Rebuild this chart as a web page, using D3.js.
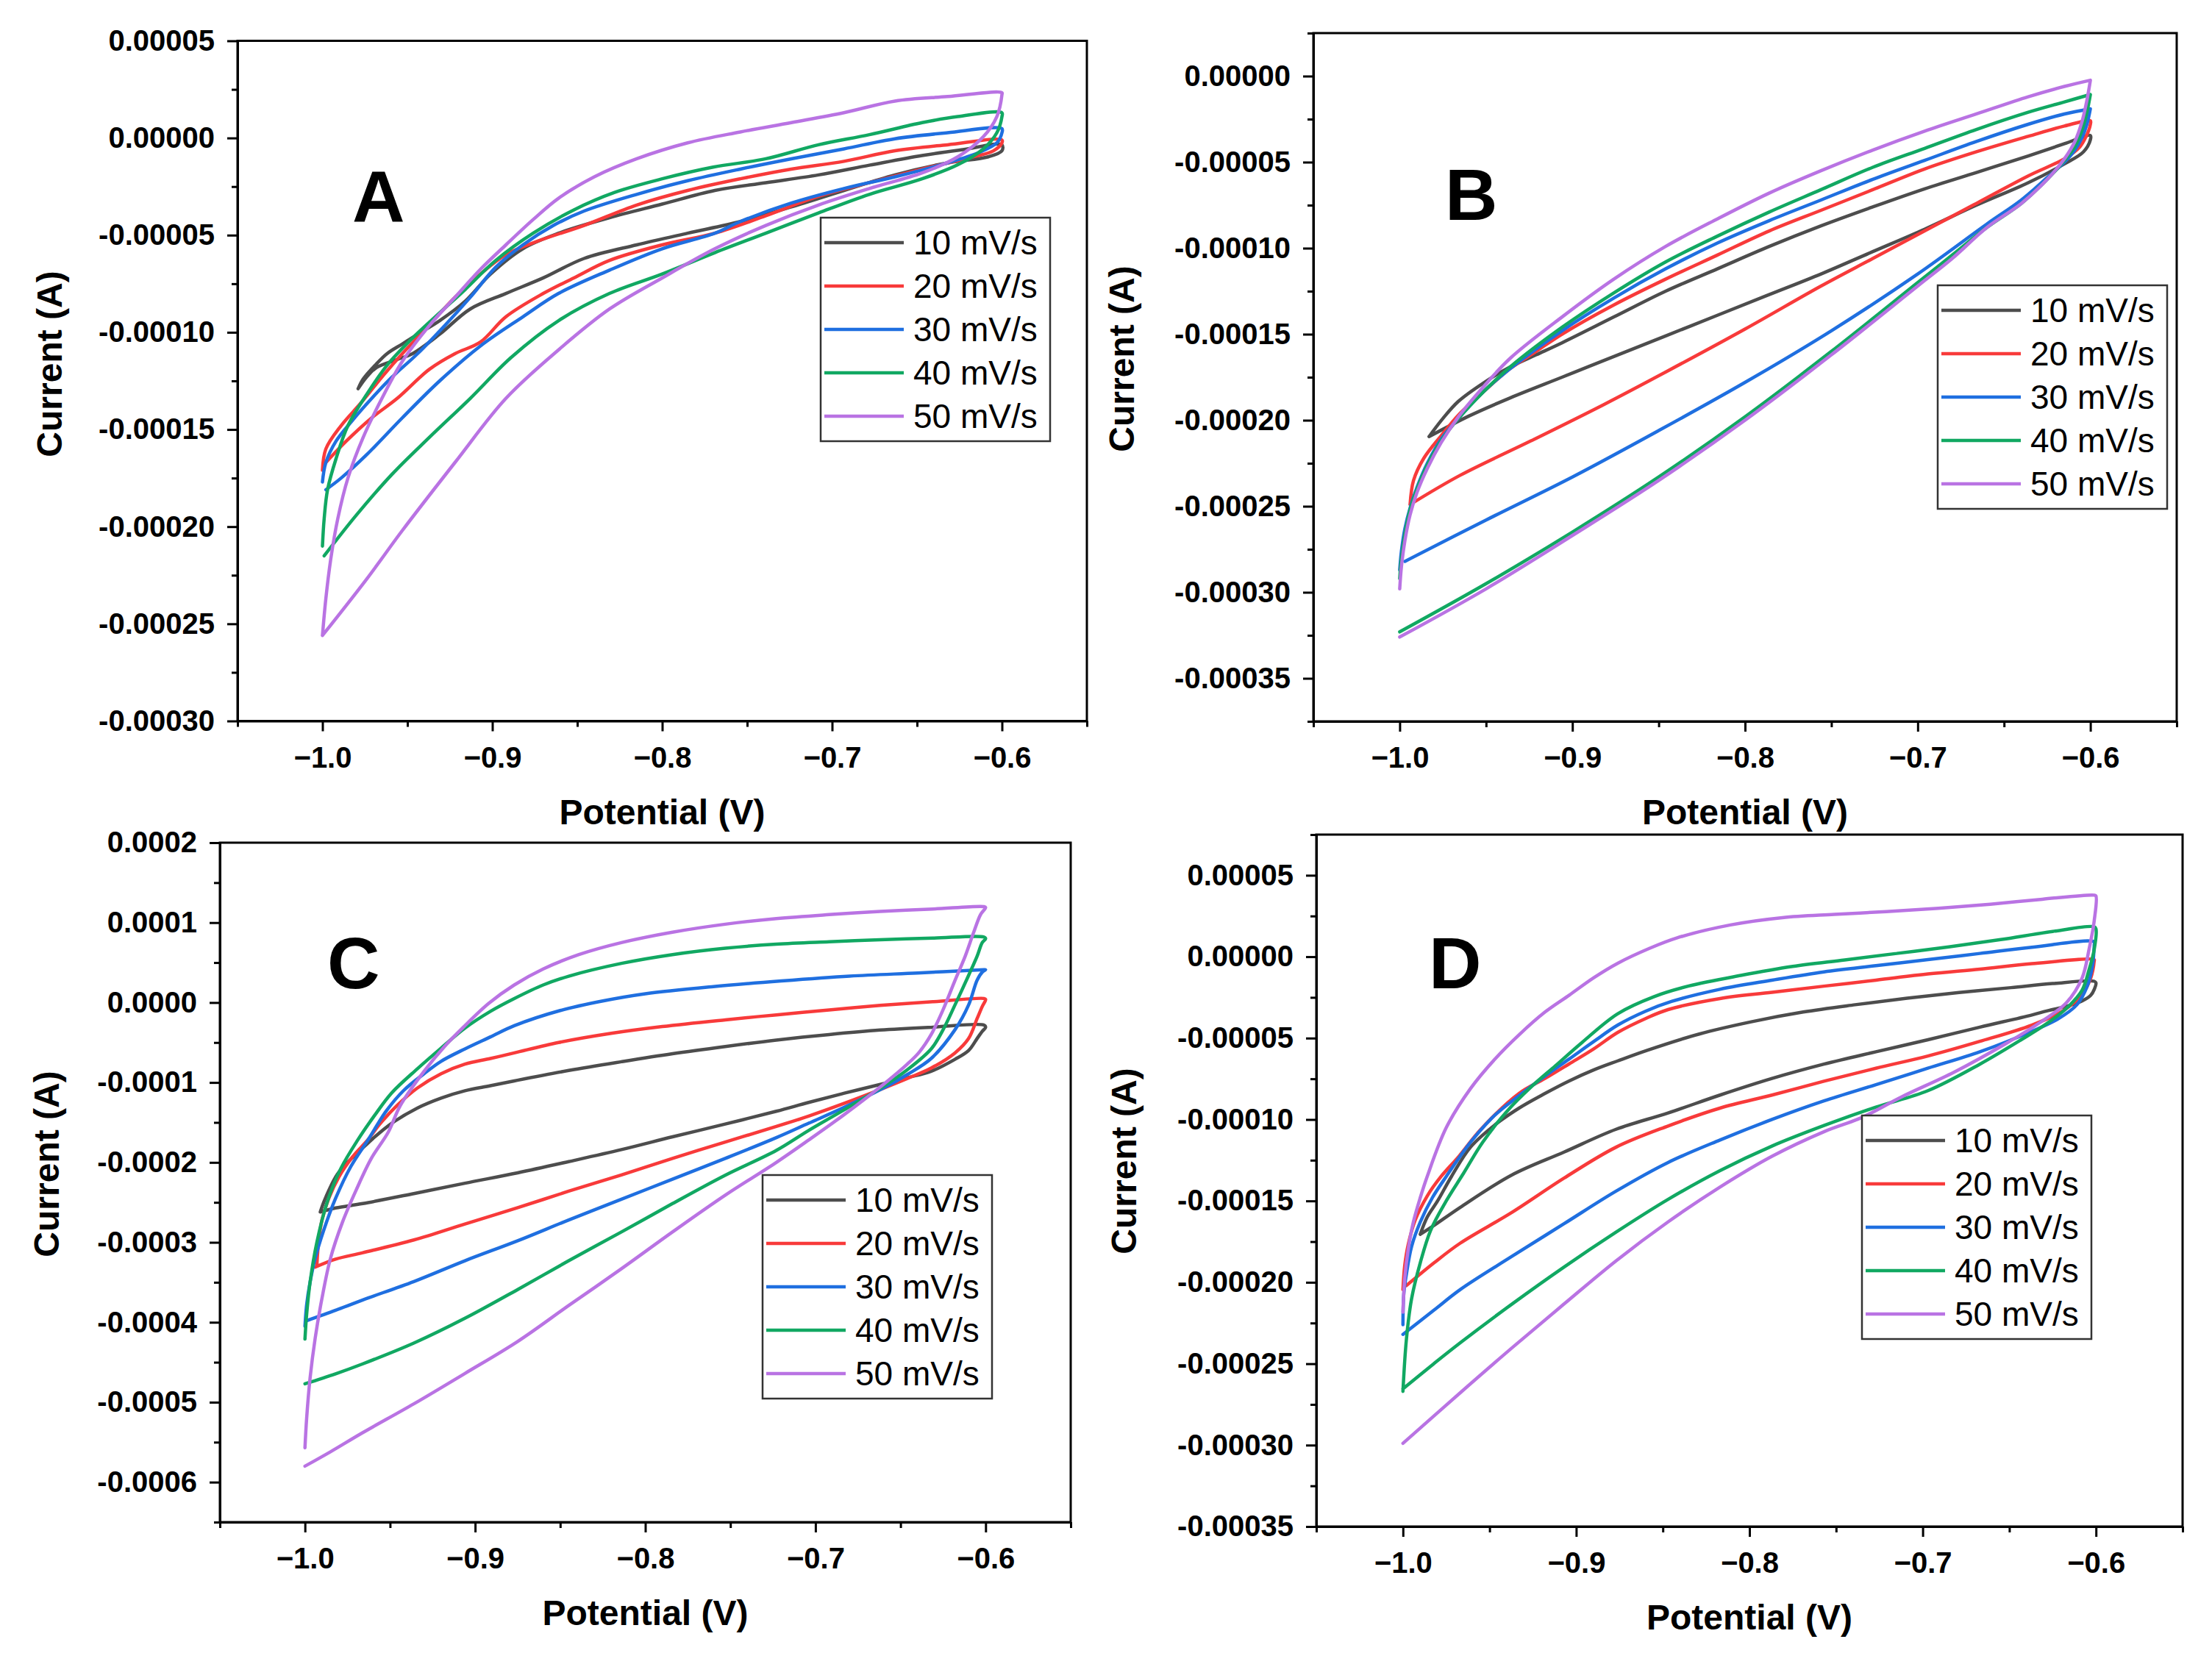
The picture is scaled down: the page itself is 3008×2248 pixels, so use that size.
<!DOCTYPE html>
<html>
<head>
<meta charset="utf-8">
<script src="https://cdn.jsdelivr.net/npm/d3@7"></script>
<style>
  body { margin: 0; background: #fff; }
  text { font-family: "Liberation Sans", Arial, sans-serif; }
</style>
</head>
<body>
<svg id="chart" width="3008" height="2248"></svg>
<script>
// scan rates and their colours
const rates = ["10 mV/s", "20 mV/s", "30 mV/s", "40 mV/s", "50 mV/s"];
const colors = ["#4d4d4d", "#f83a3a", "#1f6fe0", "#11a862", "#b973e3"];

// shared x ticks (potential, V)
const xTicks = [-1.0, -0.9, -0.8, -0.7, -0.6];
const xMinor = [-1.05, -0.95, -0.85, -0.75, -0.65, -0.55];

// y ticks, in microamps (labels are printed in A)
const yTicksA = [50, 0, -50, -100, -150, -200, -250, -300];
const yMinorA = [25, -25, -75, -125, -175, -225, -275];
const yTicksB = [0, -50, -100, -150, -200, -250, -300, -350];
const yMinorB = [25, -25, -75, -125, -175, -225, -275, -325, -375];
const yTicksC = [200, 100, 0, -100, -200, -300, -400, -500, -600];
const yMinorC = [150, 50, -50, -150, -250, -350, -450, -550, -650];
const yTicksD = [50, 0, -50, -100, -150, -200, -250, -300, -350];
const yMinorD = [75, 25, -25, -75, -125, -175, -225, -275, -325];

// CV loops: [potential V, current µA], forward sweep then reverse sweep
// ---- panel A
const a10 = [[-0.979,-129],[-0.976,-124],[-0.969,-117],[-0.962,-111],[-0.953,-106],[-0.944,-101],[-0.931,-94],[-0.916,-84],[-0.901,-70],[-0.882,-57],[-0.861,-49],[-0.831,-41],[-0.800,-34],[-0.769,-27],[-0.739,-23],[-0.708,-19],[-0.678,-14],[-0.647,-9],[-0.623,-6],[-0.600,-3.5],
  [-0.600,-6.6],[-0.608,-9.7],[-0.632,-12.8],[-0.663,-19],[-0.693,-27],[-0.724,-35.5],[-0.754,-43],[-0.785,-49],[-0.815,-55],[-0.846,-62],[-0.870,-72],[-0.892,-80],[-0.913,-88],[-0.931,-101],[-0.947,-111],[-0.956,-114],[-0.968,-118],[-0.974,-123],[-0.979,-129]];
const a20 = [[-1.000,-171],[-0.998,-160],[-0.989,-148],[-0.977,-136],[-0.965,-123],[-0.953,-111],[-0.937,-96],[-0.922,-82],[-0.907,-70],[-0.892,-60],[-0.873,-53],[-0.846,-45],[-0.815,-34.5],[-0.785,-27],[-0.754,-21],[-0.724,-16],[-0.693,-12],[-0.663,-6.6],[-0.632,-3.5],[-0.600,-1],
  [-0.600,-2.5],[-0.605,-6.6],[-0.617,-9.7],[-0.647,-16],[-0.678,-23],[-0.708,-30],[-0.739,-40],[-0.769,-49],[-0.800,-55],[-0.831,-63],[-0.852,-72],[-0.870,-80],[-0.892,-92],[-0.907,-105],[-0.922,-111],[-0.937,-119],[-0.956,-134],[-0.971,-144],[-0.986,-156],[-0.998,-167]];
const a30 = [[-1.000,-177],[-0.998,-167],[-0.992,-156],[-0.983,-146],[-0.971,-134],[-0.959,-123],[-0.944,-111],[-0.928,-96.5],[-0.913,-82],[-0.898,-66.5],[-0.882,-55],[-0.864,-45],[-0.846,-37.6],[-0.815,-29],[-0.785,-22],[-0.754,-16],[-0.724,-10.7],[-0.693,-5.6],[-0.663,-0.4],[-0.632,2.7],[-0.600,4.8],
  [-0.600,2.7],[-0.603,-2.5],[-0.614,-7.6],[-0.632,-12.8],[-0.663,-20],[-0.693,-26],[-0.724,-33.5],[-0.754,-43],[-0.769,-49],[-0.800,-57],[-0.831,-68],[-0.861,-80],[-0.882,-92],[-0.907,-107],[-0.931,-125],[-0.953,-144],[-0.974,-163],[-0.989,-175],[-0.998,-181]];
const a40 = [[-1.000,-210],[-0.999,-196],[-0.997,-181],[-0.992,-165],[-0.985,-148],[-0.974,-132],[-0.962,-117],[-0.947,-103],[-0.931,-90],[-0.916,-78],[-0.898,-63],[-0.876,-49],[-0.852,-37],[-0.828,-28],[-0.800,-21],[-0.770,-15],[-0.739,-10.7],[-0.708,-3.5],[-0.678,1.7],[-0.647,7.9],[-0.626,11],[-0.600,13],
  [-0.600,11],[-0.603,2.7],[-0.611,-5.6],[-0.626,-13.8],[-0.647,-21],[-0.678,-29],[-0.708,-38.6],[-0.739,-49],[-0.769,-59],[-0.800,-70],[-0.831,-80],[-0.861,-94],[-0.889,-113],[-0.913,-134],[-0.937,-154],[-0.959,-173],[-0.980,-194],[-0.999,-215]];
const a50 = [[-1.000,-256],[-0.998,-237],[-0.995,-216],[-0.991,-196],[-0.985,-175],[-0.976,-154],[-0.965,-134],[-0.953,-115],[-0.937,-96.5],[-0.922,-82],[-0.907,-67.6],[-0.892,-55],[-0.876,-42],[-0.861,-31],[-0.840,-20],[-0.815,-10.7],[-0.785,-2.5],[-0.754,3.1],[-0.724,7.9],[-0.693,13],[-0.663,19],[-0.632,21.3],[-0.600,23.3],
  [-0.600,22.3],[-0.603,11],[-0.611,0.6],[-0.626,-9.7],[-0.647,-18],[-0.678,-26],[-0.708,-34.5],[-0.739,-45],[-0.769,-57],[-0.800,-72],[-0.831,-88],[-0.861,-109],[-0.892,-134],[-0.922,-167],[-0.953,-202],[-0.974,-227],[-1.000,-256]];

// ---- panel B
const b10 = [[-0.983,-209.5],[-0.975,-199],[-0.966,-189],[-0.951,-178],[-0.936,-169],[-0.921,-162],[-0.906,-155],[-0.876,-140],[-0.846,-125],[-0.816,-112],[-0.786,-99],[-0.756,-87],[-0.726,-76],[-0.696,-65.5],[-0.666,-56],[-0.636,-46.4],[-0.615,-39.3],[-0.600,-34.5],
  [-0.600,-37],[-0.604,-44],[-0.615,-51],[-0.636,-62],[-0.666,-75],[-0.696,-89],[-0.726,-102],[-0.756,-115],[-0.786,-127],[-0.816,-139],[-0.846,-151],[-0.876,-163],[-0.906,-175],[-0.936,-187],[-0.960,-197.6],[-0.983,-209.5]];
const b20 = [[-0.994,-249],[-0.992,-235],[-0.986,-222],[-0.976,-209],[-0.966,-197],[-0.951,-183],[-0.936,-170],[-0.921,-160],[-0.906,-150],[-0.876,-133],[-0.846,-118],[-0.816,-104],[-0.786,-90],[-0.756,-78],[-0.726,-66],[-0.696,-54],[-0.666,-44],[-0.636,-35],[-0.615,-29],[-0.600,-26],
  [-0.600,-28],[-0.602,-34],[-0.606,-41],[-0.615,-48],[-0.636,-58],[-0.666,-74],[-0.696,-90],[-0.726,-106],[-0.756,-122],[-0.800,-147],[-0.846,-172],[-0.882,-191],[-0.924,-212],[-0.965,-232],[-0.994,-249]];
const b30 = [[-1.000,-287],[-0.999,-276],[-0.997,-263],[-0.994,-251],[-0.990,-239],[-0.984,-225],[-0.976,-211],[-0.966,-199],[-0.951,-183],[-0.936,-170],[-0.906,-148],[-0.876,-129],[-0.846,-112],[-0.816,-97],[-0.786,-84],[-0.756,-72],[-0.726,-60],[-0.696,-49],[-0.666,-38],[-0.636,-28],[-0.615,-22],[-0.600,-19],
  [-0.600,-19],[-0.602,-28],[-0.605,-36],[-0.609,-43],[-0.615,-50],[-0.625,-59],[-0.640,-72],[-0.660,-86],[-0.700,-115],[-0.750,-148],[-0.800,-178],[-0.850,-206],[-0.900,-233],[-0.950,-258],[-0.997,-282]];
const b40 = [[-1.000,-292],[-0.999,-280],[-0.997,-266],[-0.994,-252],[-0.990,-240],[-0.984,-226],[-0.976,-212],[-0.966,-199],[-0.951,-183],[-0.936,-169],[-0.906,-146],[-0.876,-126],[-0.846,-108],[-0.816,-93],[-0.786,-79],[-0.756,-66],[-0.726,-53],[-0.696,-42],[-0.666,-31],[-0.636,-21],[-0.615,-15],[-0.600,-10.7],
  [-0.600,-10.7],[-0.602,-21],[-0.605,-32],[-0.609,-41],[-0.615,-49],[-0.625,-60],[-0.640,-74],[-0.660,-88],[-0.680,-104],[-0.700,-120],[-0.750,-160],[-0.800,-198],[-0.850,-233],[-0.900,-265],[-0.950,-295],[-1.000,-323]];
const b50 = [[-1.000,-298],[-0.999,-285],[-0.997,-270],[-0.994,-255],[-0.990,-242],[-0.984,-228],[-0.976,-213],[-0.966,-198],[-0.951,-180],[-0.936,-164],[-0.906,-140],[-0.876,-118],[-0.846,-99],[-0.816,-83],[-0.786,-68],[-0.756,-55],[-0.726,-43],[-0.696,-32],[-0.666,-22],[-0.636,-12],[-0.615,-6],[-0.600,-2.4],
  [-0.600,-2.4],[-0.602,-14],[-0.605,-27],[-0.609,-38],[-0.615,-48],[-0.625,-60],[-0.640,-74],[-0.660,-88],[-0.680,-106],[-0.700,-122],[-0.750,-162],[-0.800,-200],[-0.850,-235],[-0.900,-267],[-0.950,-298],[-1.000,-326]];

// ---- panel C
const c10 = [[-0.991,-262],[-0.989,-250],[-0.986,-235],[-0.981,-215],[-0.975,-200],[-0.968,-186],[-0.960,-170],[-0.949,-151],[-0.934,-132],[-0.920,-119.5],[-0.906,-110.3],[-0.891,-104],[-0.877,-98],[-0.845,-85],[-0.814,-74],[-0.784,-64],[-0.753,-55],[-0.723,-47],[-0.692,-40],[-0.662,-34.4],[-0.631,-30.8],[-0.601,-28.2],
  [-0.600,-31],[-0.602,-36],[-0.605,-45],[-0.610,-60],[-0.618,-71],[-0.632,-86],[-0.646,-94],[-0.661,-102],[-0.683,-113.4],[-0.704,-125],[-0.723,-136],[-0.753,-152],[-0.784,-168],[-0.814,-184],[-0.845,-199],[-0.875,-213],[-0.906,-226],[-0.936,-239],[-0.966,-251.5],[-0.982,-257],[-0.991,-262]];
const c20 = [[-0.993,-328.5],[-0.992,-300],[-0.990,-272],[-0.986,-245],[-0.980,-218],[-0.972,-193],[-0.963,-171.6],[-0.956,-152],[-0.946,-129],[-0.934,-107],[-0.920,-89],[-0.906,-77],[-0.891,-70],[-0.877,-63],[-0.851,-50],[-0.820,-38.5],[-0.790,-30],[-0.753,-21.6],[-0.723,-15.4],[-0.692,-9.2],[-0.662,-3.6],[-0.631,1],[-0.601,5.1],
  [-0.600,4],[-0.602,-5],[-0.605,-20],[-0.610,-45],[-0.618,-63],[-0.632,-82],[-0.646,-95],[-0.661,-108],[-0.683,-126],[-0.704,-142],[-0.723,-155],[-0.753,-174.5],[-0.784,-195],[-0.814,-215.6],[-0.845,-236],[-0.875,-256.7],[-0.906,-277],[-0.936,-297],[-0.966,-313],[-0.982,-321],[-0.994,-331]];
const c30 = [[-1.000,-405],[-0.999,-378],[-0.997,-350],[-0.994,-320],[-0.989,-285],[-0.982,-245],[-0.973,-205],[-0.963,-172],[-0.952,-135],[-0.942,-110],[-0.930,-89],[-0.920,-73.5],[-0.906,-58],[-0.891,-43],[-0.877,-29],[-0.850,-10],[-0.825,2],[-0.800,11],[-0.760,20],[-0.720,27],[-0.680,33],[-0.640,37],[-0.601,41],
  [-0.600,41],[-0.602,38],[-0.605,28],[-0.610,-3],[-0.618,-34],[-0.632,-70],[-0.646,-90],[-0.661,-108],[-0.683,-131],[-0.704,-151],[-0.723,-169],[-0.753,-195],[-0.784,-221],[-0.814,-246],[-0.845,-272],[-0.875,-298],[-0.906,-323],[-0.936,-349],[-0.966,-372],[-0.982,-385],[-0.999,-398]];
const c40 = [[-1.000,-421],[-0.999,-390],[-0.997,-350],[-0.993,-300],[-0.987,-250],[-0.979,-208],[-0.969,-172],[-0.959,-141],[-0.949,-113],[-0.934,-83],[-0.920,-57],[-0.906,-32],[-0.891,-11],[-0.877,5],[-0.860,22],[-0.845,33],[-0.814,49],[-0.784,60],[-0.753,68],[-0.723,73],[-0.692,76],[-0.662,78.5],[-0.631,80.6],[-0.601,82],
  [-0.600,80],[-0.602,75],[-0.605,58],[-0.610,34],[-0.618,-3],[-0.625,-34],[-0.632,-58],[-0.646,-84],[-0.661,-106],[-0.683,-134],[-0.704,-160],[-0.723,-185],[-0.753,-216],[-0.784,-251.5],[-0.814,-287],[-0.845,-323],[-0.875,-359],[-0.906,-395],[-0.936,-426],[-0.966,-452],[-0.982,-464.5],[-1.000,-477]];
const c50 = [[-1.000,-557],[-0.999,-520],[-0.997,-470],[-0.994,-420],[-0.990,-370],[-0.985,-320],[-0.978,-275],[-0.970,-235],[-0.961,-195],[-0.951,-162],[-0.944,-129],[-0.930,-86],[-0.918,-55],[-0.907,-31],[-0.892,-1],[-0.877,22],[-0.860,42],[-0.839,60],[-0.814,75],[-0.784,88],[-0.753,98],[-0.723,105],[-0.692,110],[-0.662,114],[-0.631,117],[-0.601,120],
  [-0.600,119],[-0.603,110],[-0.607,88],[-0.612,58],[-0.618,27.6],[-0.625,-9],[-0.632,-40],[-0.639,-62],[-0.646,-77],[-0.661,-104],[-0.683,-140],[-0.704,-172],[-0.723,-200],[-0.753,-241],[-0.784,-287],[-0.814,-333],[-0.845,-379],[-0.875,-424],[-0.906,-464],[-0.936,-502],[-0.966,-538],[-0.985,-562],[-1.000,-580]];

// ---- panel D
const d10 = [[-0.990,-170.5],[-0.986,-160],[-0.980,-150],[-0.972,-135],[-0.961,-117],[-0.947,-103.4],[-0.933,-93],[-0.918,-84],[-0.904,-76.3],[-0.890,-69.6],[-0.876,-64],[-0.859,-57.5],[-0.829,-47.5],[-0.799,-40],[-0.769,-34],[-0.739,-29.5],[-0.709,-25.5],[-0.679,-22],[-0.649,-19],[-0.625,-16.5],[-0.601,-15.1],
  [-0.600,-16.1],[-0.601,-20.1],[-0.603,-23.7],[-0.608,-27.2],[-0.616,-30.2],[-0.628,-33.2],[-0.637,-35.8],[-0.667,-43.3],[-0.697,-51],[-0.727,-58.4],[-0.757,-66],[-0.787,-74.8],[-0.817,-85],[-0.847,-96],[-0.877,-106],[-0.907,-120],[-0.937,-134],[-0.967,-154],[-0.982,-165],[-0.990,-170.5]];
const d20 = [[-1.000,-204.5],[-0.999,-190],[-0.997,-177],[-0.993,-162],[-0.986,-147],[-0.978,-135],[-0.968,-123],[-0.955,-106],[-0.933,-84],[-0.918,-74.8],[-0.904,-65.8],[-0.890,-56.7],[-0.876,-46.5],[-0.860,-38],[-0.847,-32.5],[-0.817,-25.7],[-0.787,-21.9],[-0.757,-18.1],[-0.727,-14.4],[-0.697,-10.6],[-0.667,-7.6],[-0.637,-4.3],[-0.601,-1.8],
  [-0.601,-2.5],[-0.603,-13.1],[-0.608,-23.2],[-0.619,-33.2],[-0.637,-42],[-0.667,-52],[-0.697,-61],[-0.727,-68.5],[-0.757,-76.5],[-0.787,-85],[-0.817,-93],[-0.847,-104],[-0.877,-117],[-0.907,-136],[-0.937,-157],[-0.967,-176],[-0.982,-188],[-0.998,-202]];
const d30 = [[-1.000,-226],[-0.9995,-207],[-0.998,-195],[-0.995,-178],[-0.990,-163],[-0.983,-148],[-0.975,-135],[-0.961,-114],[-0.947,-97.4],[-0.933,-85.4],[-0.918,-73.3],[-0.904,-62.8],[-0.890,-52.2],[-0.876,-42],[-0.860,-33.5],[-0.845,-27.5],[-0.817,-20],[-0.787,-14.4],[-0.757,-9.3],[-0.727,-5.5],[-0.697,-1.8],[-0.667,2],[-0.637,5.8],[-0.601,9.1],
  [-0.601,7.1],[-0.602,-5.5],[-0.605,-18],[-0.611,-29.5],[-0.622,-38.3],[-0.637,-45.8],[-0.667,-58.4],[-0.697,-68.5],[-0.727,-78.6],[-0.757,-88.6],[-0.787,-100],[-0.817,-112.6],[-0.847,-126.4],[-0.877,-144],[-0.907,-164],[-0.937,-184],[-0.967,-204.5],[-0.982,-217],[-1.000,-232]];
const d40 = [[-1.000,-267],[-0.998,-235],[-0.995,-210],[-0.990,-188],[-0.984,-168],[-0.975,-150],[-0.965,-133],[-0.954,-114],[-0.940,-95],[-0.926,-80],[-0.912,-67],[-0.897,-53],[-0.876,-35],[-0.855,-24.5],[-0.835,-18],[-0.805,-11.5],[-0.775,-6],[-0.745,-2],[-0.715,2],[-0.685,6],[-0.655,10.5],[-0.625,15.5],[-0.601,18.4],
  [-0.600,17.1],[-0.601,4.5],[-0.604,-8.1],[-0.608,-20.6],[-0.616,-30.7],[-0.628,-40.8],[-0.643,-50.9],[-0.667,-66],[-0.697,-82.3],[-0.727,-92.4],[-0.757,-103.7],[-0.787,-116.3],[-0.817,-131.4],[-0.847,-149.1],[-0.877,-169.2],[-0.907,-190.6],[-0.937,-213.3],[-0.967,-237.2],[-0.982,-249.8],[-1.000,-265.4]];
const d50 = [[-1.000,-218.3],[-0.999,-198],[-0.997,-180],[-0.994,-163],[-0.990,-148],[-0.986,-135],[-0.975,-105],[-0.961,-81],[-0.947,-63],[-0.933,-48],[-0.918,-34],[-0.904,-23.6],[-0.890,-13],[-0.876,-4],[-0.858,5],[-0.842,11.5],[-0.811,19.5],[-0.781,24],[-0.751,26],[-0.721,27.7],[-0.691,29.7],[-0.661,32.2],[-0.631,35.3],[-0.601,37.8],
  [-0.600,37.3],[-0.601,22.2],[-0.604,4.5],[-0.608,-13.1],[-0.617,-28.2],[-0.631,-39.5],[-0.652,-53.4],[-0.682,-71],[-0.712,-86],[-0.735,-98.7],[-0.757,-107.5],[-0.787,-122.6],[-0.817,-141.5],[-0.847,-162.9],[-0.877,-186.8],[-0.907,-213.3],[-0.937,-240.2],[-0.967,-267.9],[-0.982,-282],[-1.000,-298.9]];

// layout of the four panels (pixel boxes)
const panels = [
  { letter: "A", loops: [a10, a20, a30, a40, a50], yDomain: [-300, 50], yTicks: yTicksA, yMinor: yMinorA, dec: 5,
    x0: 323, x1: 1478, y0: 55.5, y1: 980.5, lx: 479, ly: 301, tx: 84, ty: 495, gx: 1116, gy: 296 },
  { letter: "B", loops: [b10, b20, b30, b40, b50], yDomain: [-375, 25], yTicks: yTicksB, yMinor: yMinorB, dec: 5,
    x0: 1786, x1: 2960, y0: 45, y1: 981, lx: 1965, ly: 299, tx: 1542, ty: 488, gx: 2635, gy: 388 },
  { letter: "C", loops: [c10, c20, c30, c40, c50], yDomain: [-650, 200], yTicks: yTicksC, yMinor: yMinorC, dec: 4,
    x0: 299, x1: 1456, y0: 1146, y1: 2070, lx: 445, ly: 1344, tx: 80, ty: 1583, gx: 1037, gy: 1598 },
  { letter: "D", loops: [d10, d20, d30, d40, d50], yDomain: [-350, 75], yTicks: yTicksD, yMinor: yMinorD, dec: 5,
    x0: 1790, x1: 2968, y0: 1135, y1: 2076, lx: 1943, ly: 1344, tx: 1545, ty: 1579, gx: 2532, gy: 1517 }
];

const svg = d3.select("#chart");
svg.append("rect").attr("width", 3008).attr("height", 2248).attr("fill", "#fff");

function styleAxis(g, size) {
  g.attr("font-family", "'Liberation Sans', Arial, sans-serif")
    .attr("font-size", size)
    .attr("font-weight", "bold");
  g.selectAll("path.domain").attr("stroke-width", 3);
  g.selectAll(".tick line").attr("stroke-width", 3);
  g.selectAll(".tick text").attr("fill", "#000");
}

panels.forEach(function (p) {
  const x = d3.scaleLinear().domain([-1.05, -0.55]).range([p.x0, p.x1]);
  const y = d3.scaleLinear().domain(p.yDomain).range([p.y1, p.y0]);
  const g = svg.append("g");

  // curves
  const line = d3.line()
    .x(d => x(d[0]))
    .y(d => y(d[1]))
    .curve(d3.curveCatmullRom.alpha(0.5));

  p.loops.forEach(function (loop, i) {
    g.append("path")
      .datum(loop)
      .attr("d", line)
      .attr("fill", "none")
      .attr("stroke", colors[i])
      .attr("stroke-width", 4.5)
      .attr("stroke-linejoin", "round")
      .attr("stroke-linecap", "round");
  });

  // frame
  g.append("rect")
    .attr("x", p.x0).attr("y", p.y0)
    .attr("width", p.x1 - p.x0).attr("height", p.y1 - p.y0)
    .attr("fill", "none").attr("stroke", "#000").attr("stroke-width", 3);

  // x axis, major + minor
  g.append("g")
    .attr("transform", "translate(0," + p.y1 + ")")
    .call(d3.axisBottom(x).tickValues(xTicks).tickFormat(d3.format(".1f"))
      .tickSize(14).tickSizeOuter(0).tickPadding(21))
    .call(a => styleAxis(a, 40));
  g.append("g")
    .attr("transform", "translate(0," + p.y1 + ")")
    .call(d3.axisBottom(x).tickValues(xMinor).tickFormat("").tickSize(8).tickSizeOuter(0))
    .call(a => { a.select(".domain").remove(); a.selectAll("line").attr("stroke-width", 3); });

  // y axis, major + minor
  g.append("g")
    .attr("transform", "translate(" + p.x0 + ",0)")
    .call(d3.axisLeft(y).tickValues(p.yTicks).tickFormat(d => (d * 1e-6).toFixed(p.dec))
      .tickSize(14).tickSizeOuter(0).tickPadding(17))
    .call(a => styleAxis(a, 40));
  g.append("g")
    .attr("transform", "translate(" + p.x0 + ",0)")
    .call(d3.axisLeft(y).tickValues(p.yMinor).tickFormat("").tickSize(8).tickSizeOuter(0))
    .call(a => { a.select(".domain").remove(); a.selectAll("line").attr("stroke-width", 3); });

  // axis titles
  g.append("text")
    .attr("x", (p.x0 + p.x1) / 2).attr("y", p.y1 + 140)
    .attr("text-anchor", "middle")
    .attr("font-size", 48).attr("font-weight", "bold")
    .text("Potential (V)");
  g.append("text")
    .attr("transform", "translate(" + p.tx + "," + p.ty + ") rotate(-90)")
    .attr("text-anchor", "middle")
    .attr("font-size", 48).attr("font-weight", "bold")
    .text("Current (A)");

  // panel letter
  g.append("text")
    .attr("x", p.lx).attr("y", p.ly)
    .attr("font-size", 99).attr("font-weight", "bold")
    .text(p.letter);

  // legend
  const lg = g.append("g").attr("transform", "translate(" + p.gx + "," + p.gy + ")");
  lg.append("rect")
    .attr("width", 312).attr("height", 304)
    .attr("fill", "#fff").attr("stroke", "#333").attr("stroke-width", 2.5);
  rates.forEach(function (r, i) {
    const ry = 34 + i * 59;
    lg.append("line")
      .attr("x1", 5).attr("x2", 113).attr("y1", ry).attr("y2", ry)
      .attr("stroke", colors[i]).attr("stroke-width", 4.5);
    lg.append("text")
      .attr("x", 126).attr("y", ry + 16)
      .attr("font-size", 46)
      .text(r);
  });
});
</script>
</body>
</html>
